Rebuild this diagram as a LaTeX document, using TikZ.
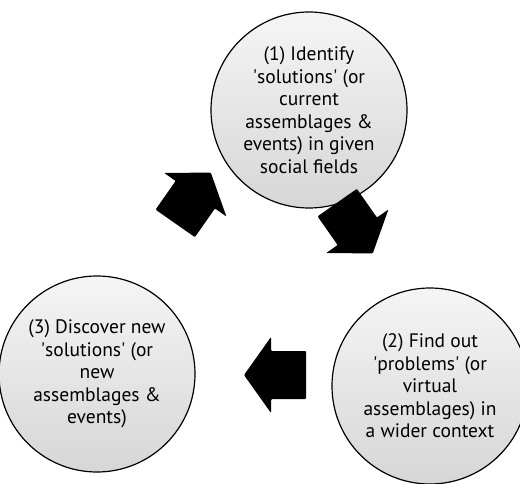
\documentclass[tikz,border=0pt]{standalone}
\usepackage{fontspec}
\setmainfont{PT Sans}
\newcommand{\sq}{\textquotesingle}
\tikzset{
  stage/.style={circle, draw=black, line width=1.2pt, minimum size=196pt,
    inner sep=0pt, align=center, top color=gray!8, bottom color=gray!32,
    font=\fontsize{19.5}{22.5}\selectfont},
  cyclearrow/.pic={
    \fill[black, rounded corners=1pt] (-31,-24) -- (4,-24) -- (4,-38)
      -- (31,0) -- (4,38) -- (4,24) -- (-31,24) -- cycle;}
}
\begin{document}
\begin{tikzpicture}[x=1pt,y=-1pt]
  \useasboundingbox (0,0) rectangle (520,484);
  % the three stages
  \node[stage] (identify) at (309,110)
    {(1) Identify\\\sq solutions\sq{} (or\\current\\assemblages \&\\events) in given\\social fields};
  \node[stage] (findout) at (430,386)
    {(2) Find out\\\sq problems\sq{} (or\\virtual\\assemblages) in\\a wider context};
  \node[stage] (discover) at (97,374)
    {(3) Discover new\\\sq solutions\sq{} (or\\new\\assemblages \&\\events)};
  % arrows of the cycle
  \pic[rotate=-55] at (355,228) {cyclearrow};
  \pic[rotate=180] at (275,375) {cyclearrow};
  \pic[rotate=55] at (193,198) {cyclearrow};
\end{tikzpicture}
\end{document}
